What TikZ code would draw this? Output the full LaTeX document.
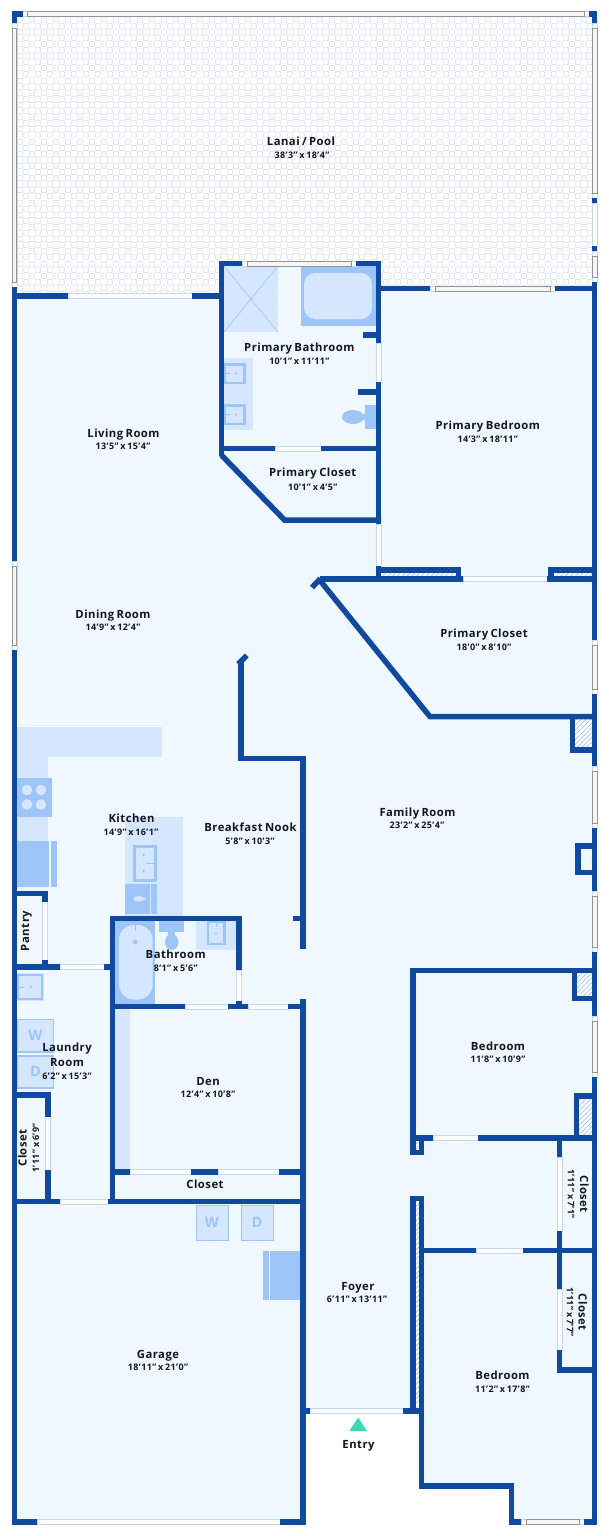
\documentclass[tikz,border=0pt]{standalone}
\usepackage{fontspec}
\setmainfont[LetterSpace=4,WordSpace=0.7,BoldFont={Open Sans Bold}]{Open Sans}
\usetikzlibrary{patterns.meta}
\definecolor{wallc}{HTML}{0F4A9E}
\definecolor{floorc}{HTML}{F0F8FF}
\definecolor{lightc}{HTML}{D4E7FF}
\definecolor{midc}{HTML}{9DC5F8}
\definecolor{tilec}{HTML}{DFE8F6}
\definecolor{edgec}{HTML}{C8D8EC}
\definecolor{framec}{HTML}{949494}
\definecolor{glassc}{HTML}{F5F5F5}
\definecolor{inkc}{HTML}{15151F}
\definecolor{entryc}{HTML}{3FD8B4}
\tikzset{
  wall/.style={draw=wallc,line width=5.5pt,line cap=butt,miter limit=10},
  floorarea/.style={fill=floorc,draw=none},
  lightfix/.style={fill=lightc,draw=none},
  midfix/.style={fill=midc,draw=none},
  tiles/.style={draw=tilec,line width=.9pt},
  doorstrip/.style={fill=white,draw=edgec,line width=.6pt},
  pane/.style={fill=glassc,draw=framec,line width=.7pt},
  hatchfill/.style={fill=white,draw=none},
  hatchlines/.style={pattern={Lines[angle=45,distance=3.4pt,line width=.7pt]},pattern color=midc,draw=none},
  sinkbox/.style={fill=lightc,draw=midc,line width=2.6pt},
  machine/.style={fill=lightc,draw=midc,line width=1.3pt},
  machinetext/.style={text=midc,font=\fontsize{14.5}{16}\selectfont\bfseries},
  rname/.style={text=inkc,font=\fontsize{11.3}{13}\selectfont\bfseries,inner sep=0pt,text height=8pt,text depth=0pt},
  rdim/.style={text=inkc,font=\fontsize{9}{11}\selectfont\bfseries,inner sep=0pt,text height=6.4pt,text depth=0pt},
}
\newcommand{\Hw}[3]{\draw[wall] (#1,#3) -- (#2,#3);}
\newcommand{\Vw}[3]{\draw[wall] (#1,#2) -- (#1,#3);}
\newcommand{\Hd}[3]{\path[doorstrip] (#1,#3-2.5) rectangle (#2,#3+2.5);}
\newcommand{\Vd}[3]{\path[doorstrip] (#1-2.5,#2) rectangle (#1+2.5,#3);}
\newcommand{\Hwin}[3]{\path[doorstrip] (#1,#3-2.5) rectangle (#2,#3+2.5);\path[pane] (#1+5,#3-2.4) rectangle (#2-5,#3+2.4);}
\newcommand{\Vwin}[3]{\path[doorstrip] (#1-2.5,#2) rectangle (#1+2.5,#3);\path[pane] (#1-2.4,#2+5) rectangle (#1+2.4,#3-5);}
\newcommand{\Hatch}[4]{\path[hatchfill] (#1,#2) rectangle (#3,#4);\path[hatchlines] (#1,#2) rectangle (#3,#4);}
\begin{document}
\begin{tikzpicture}[x=1pt,y=-1pt]
\useasboundingbox (0,0) rectangle (608,1536);
\fill[white] (0,0) rectangle (608,1536);
% lanai tiles
\begin{scope}
\clip (17,16) rectangle (592,296);
\draw[tiles] \foreach \i in {0,...,46} {\foreach \j in {0,...,48} {({17+12*\j+6*mod(\i,2)},{17+6.1*\i}) rectangle +(5,5)}};
\end{scope}
% floor
\path[floorarea] (14,296) -- (221,296) -- (221,263) -- (378,263) -- (378,288) -- (595,288) -- (595,1522) -- (511,1522) -- (511,1486) -- (421,1486) -- (421,1411) -- (303,1411) -- (303,1522) -- (14,1522) -- cycle;
% primary bath fixtures
\path[lightfix] (224,266) rectangle (278,332);
\draw[midc,line width=.6pt] (224,266) -- (278,332) (278,266) -- (224,332);
\path[midfix] (301,266) rectangle (376,326);
\path[lightfix,rounded corners=11pt] (304,273) rectangle (372,319);
\path[lightfix] (224,358) rectangle (253,430);
\path[sinkbox] (225,364.5) rectangle (244.5,383);
\path[sinkbox] (225,405.5) rectangle (244.5,424);
\fill[midc] (236,373.5) circle (1.1) (236,414.5) circle (1.1);
\draw[midc,line width=.8pt] (226,373.5) -- (230,373.5) (226,414.5) -- (230,414.5);
\path[midfix] (365,405) rectangle (376,429);
\path[midfix] (358,414) rectangle (366,420);
\fill[midc] (353,417) ellipse [x radius=11,y radius=7];
% kitchen fixtures
\path[lightfix] (17,727) rectangle (162,757);
\path[lightfix] (17,727) rectangle (48,887);
\path[midfix] (17,778) rectangle (52,817);
\fill[lightc] (27,790) circle (5.3) (41,790) circle (5.3) (27,804.5) circle (5.3) (41,804.5) circle (5.3);
\path[midfix] (17,841) rectangle (49,887);
\path[midfix] (50.5,841) rectangle (56.7,887);
\path[lightfix] (125.3,817) rectangle (183.3,916);
\path[sinkbox] (134.5,846.3) rectangle (155.5,880.5);
\fill[midc] (143.5,855) circle (1.3) (143.5,871) circle (1.3);
\draw[midc,line width=1pt] (146,863) -- (155,863);
\path[midfix] (125.3,883.5) rectangle (150,914);
\path[midfix] (151,883.5) rectangle (157,914);
\fill[lightc] (133,899) .. controls (135,895) and (141,895) .. (146,899) .. controls (141,902) and (135,903) .. (133,899) -- cycle;
% bathroom fixtures
\path[midfix] (115,921) rectangle (155,1004);
\path[lightfix,rounded corners=15pt] (119,925) rectangle (152.7,999.5);
\fill[midc] (135.3,942) circle (2.3);
\draw[midc,line width=1pt] (135.3,925) -- (135.3,931);
\path[midfix] (159,921) rectangle (184,932);
\path[midfix] (168,932) rectangle (175,938);
\fill[midc] (171.7,942) ellipse [x radius=6.7,y radius=8];
\path[lightfix] (196,921) rectangle (236.5,950);
\path[sinkbox] (208,922) rectangle (224.3,944);
\fill[midc] (216,934) circle (1.1);
\draw[midc,line width=.8pt] (216,923) -- (216,927);
% laundry fixtures
\path[lightfix] (17,973.3) rectangle (44.3,1001);
\path[sinkbox] (18,975) rectangle (42,999);
\fill[midc] (31,987) circle (1.2);
\draw[midc,line width=.8pt] (19,987) -- (24,987);
\path[machine] (17.6,1019.8) rectangle (53.6,1052);
\path[machine] (17.6,1056) rectangle (53.6,1088);
\node[machinetext] (wa) at (35.5,1035) {W};
\node[machinetext] (dr) at (35.5,1071) {D};
% den closet strip
\path[lightfix] (115.3,1009) rectangle (130,1169.5);
% garage fixtures
\path[machine] (196.2,1205.5) rectangle (228.5,1240.5);
\path[machine] (241.2,1205.5) rectangle (273.5,1240.5);
\node[machinetext] (wb) at (212,1222) {W};
\node[machinetext] (db) at (257,1222) {D};
\path[midfix] (263,1251) rectangle (268.7,1300);
\path[midfix] (270,1251) rectangle (301,1300);
% hatches
\Hatch{381}{572}{456}{577}
\Hatch{553}{572}{592}{577}
\Hatch{575}{719}{592}{747.5}
\Hatch{577}{973}{592}{996}
\Hatch{579}{1098.5}{592}{1135.5}
\Hatch{415}{1201}{419}{1408.5}
\Hatch{415}{1141}{419}{1150}
% doors
\Hd{68}{192}{296}
\Hd{275}{321}{448.3}
\Vd{378.3}{343}{382}
\Vd{378.3}{524}{566}
\Hd{463}{547}{579}
\Vd{44.8}{901.7}{960}
\Hd{60}{104}{966.8}
\Vd{239}{970}{1001}
\Hd{185}{228}{1006.7}
\Hd{248}{288}{1006.7}
\Vd{48.2}{1116.7}{1170}
\Hd{60}{108}{1201.5}
\Hd{130}{191}{1172}
\Hd{218}{279}{1172}
\Hd{433}{478}{1138}
\Vd{559.3}{1157.3}{1231}
\Hd{476}{523}{1250.3}
\Vd{559.3}{1289}{1350}
\Hd{310}{403}{1411}
\Hd{37}{280}{1521.8}
\Vd{594.5}{203}{246}
% windows
\Hwin{22.5}{589}{14}
\Vwin{14.3}{23}{287}
\Vwin{14.3}{561}{650}
\Vwin{594.5}{23}{198}
\Vwin{594.5}{251}{282}
\Hwin{242}{356}{263.5}
\Hwin{430}{555}{288.5}
\Vwin{594.5}{640}{694}
\Vwin{594.5}{766}{828}
\Vwin{594.5}{891}{952}
\Vwin{594.5}{1016}{1077}
\Hwin{521}{584}{1521.8}
% walls: outer
\Hw{11.7}{22.5}{14}
\Vw{14.3}{11.7}{23}
\Hw{589}{597}{14}
\Vw{594.5}{11.7}{23}
\Vw{594.5}{198}{203}
\Vw{594.5}{246}{251}
\Vw{14.3}{287}{561}
\Vw{14.3}{650}{1524.4}
\Vw{594.5}{282}{640}
\Vw{594.5}{694}{766}
\Vw{594.5}{828}{891}
\Vw{594.5}{952}{1016}
\Vw{594.5}{1077}{1524.4}
\Hw{12}{68}{296}
\Hw{192}{221}{296}
\Hw{12}{37}{1521.8}
\Hw{280}{305.7}{1521.8}
% primary bath
\Vw{221.3}{261}{456}
\Hw{219}{242}{263.5}
\Hw{356}{381}{263.5}
\Vw{378.3}{261}{343}
\Vw{378.3}{382}{524}
\Vw{378.3}{566}{581.7}
\Hw{362.7}{376}{335}
\Hw{358}{376}{392}
\Hw{221}{275}{448.3}
\Hw{321}{378}{448.3}
\draw[wall] (221.3,455) -- (284.5,520) -- (381,520);
\Hw{381}{430}{288.5}
\Hw{555}{597}{288.5}
% primary closets
\Hw{378}{461}{570}
\Vw{458.5}{570}{581.7}
\Hw{548.3}{592}{570}
\Vw{551}{570}{581.7}
\draw[wall] (463,579) -- (320,579);
\draw[wall] (312,587.5) -- (320.5,578.5);
\draw[wall] (320,580.5) -- (430,716.7) -- (592,716.7);
\Hw{547}{597}{579}
\draw[wall] (572.7,714) -- (572.7,749.8) -- (592,749.8);
\draw[wall] (592,845.9) -- (578,845.9) -- (578,872.5) -- (592,872.5);
% nook
\draw[wall] (240.8,661) -- (240.8,758.7) -- (303.2,758.7) -- (303.2,949.3);
\draw[wall] (238.2,664) -- (246.8,655.5);
\Hw{293.3}{301}{918.3}
\Vw{303.2}{999.3}{1524.4}
% bathroom
\Hw{110}{241.7}{918.3}
\Vw{112.7}{915.7}{1204}
\Vw{239}{915.7}{970}
\Vw{239}{1000.7}{1009.3}
\Hw{110}{185}{1006.7}
\Hw{228}{248}{1006.7}
\Hw{288}{306}{1006.7}
% pantry, laundry
\Hw{12}{47.3}{893.3}
\Vw{44.8}{891}{901.7}
\Vw{44.8}{960}{969}
\Hw{12}{60}{966.8}
\Hw{104}{115}{966.8}
\Hw{12}{50.7}{1094.8}
\Vw{48.2}{1092.3}{1116.7}
\Vw{48.2}{1170}{1204}
\Hw{12}{60}{1201.5}
\Hw{108}{306}{1201.5}
\Hw{112}{130}{1172}
\Hw{191}{218}{1172}
\Hw{279}{306}{1172}
% bedrooms
\Hw{410}{594}{970.5}
\Vw{412.8}{968}{1141}
\Hw{410}{433}{1138}
\Hw{478}{594}{1138}
\draw[wall] (574.5,973) -- (574.5,998.4) -- (592,998.4);
\draw[wall] (592,1096) -- (576.6,1096) -- (576.6,1136);
\draw[wall] (417.2,1138) -- (412.8,1138) -- (412.8,1152.6) -- (421.4,1152.6) -- (421.4,1138);
\Vw{559.3}{1141}{1157.3}
\Vw{559.3}{1231}{1289}
\Vw{559.3}{1350}{1372.7}
\Hw{421}{476}{1250.3}
\Hw{523}{592}{1250.3}
\Hw{557}{592}{1370}
\Vw{412.8}{1196}{1413.5}
\Vw{421.4}{1196}{1488.6}
\Hw{410}{424}{1198.5}
\Hw{305.7}{310}{1411}
\Hw{403}{424}{1411}
\draw[wall] (419,1486) -- (511.7,1486) -- (511.7,1524.4);
\Hw{509}{521}{1521.8}
\Hw{584}{597}{1521.8}
% entry
\path[fill=entryc] (358.2,1417.5) -- (367,1431) -- (349.3,1431) -- cycle;
% labels
\node[rname] (l1) at (301,142) {Lanai / Pool};
\node[rdim] (d1) at (302,155.5) {38'3" x 18'4"};
\node[rname] (l2) at (299.3,347.7) {Primary Bathroom};
\node[rdim] (d2) at (299.3,361.7) {10'1" x 11'11"};
\node[rname] (l3) at (312.7,472.7) {Primary Closet};
\node[rdim] (d3) at (312.7,487) {10'1" x 4'5"};
\node[rname] (l4) at (487.7,425) {Primary Bedroom};
\node[rdim] (d4) at (487.7,439) {14'3" x 18'11"};
\node[rname] (l5) at (123.5,433) {Living Room};
\node[rdim] (d5) at (123,446.5) {13'5" x 15'4"};
\node[rname] (l6) at (113,614) {Dining Room};
\node[rdim] (d6) at (113,627.5) {14'9" x 12'4"};
\node[rname] (l7) at (484,633.5) {Primary Closet};
\node[rdim] (d7) at (484,647.5) {18'0" x 8'10"};
\node[rname] (l8) at (417.5,812) {Family Room};
\node[rdim] (d8) at (417,825.5) {23'2" x 25'4"};
\node[rname] (l9) at (131.5,818) {Kitchen};
\node[rdim] (d9) at (131,832) {14'9" x 16'1"};
\node[rname] (l10) at (250.5,827.5) {Breakfast Nook};
\node[rdim] (d10) at (250,841) {5'8" x 10'3"};
\node[rname] (l11) at (175.7,954) {Bathroom};
\node[rdim] (d11) at (175.7,968) {8'1" x 5'6"};
\node[rname,rotate=90] (l12) at (25,931) {Pantry};
\node[rname] (l13) at (67,1047) {Laundry};
\node[rname] (l13b) at (67,1062) {Room};
\node[rdim] (d13) at (67,1076) {6'2" x 15'3"};
\node[rname] (l14) at (208,1081) {Den};
\node[rdim] (d14) at (208,1094.5) {12'4" x 10'8"};
\node[rname] (l15) at (205,1184.5) {Closet};
\node[rname,rotate=90] (l16) at (22.5,1148) {Closet};
\node[rdim,rotate=90] (d16) at (36,1148) {1'11" x 6'9"};
\node[rname] (l17) at (498,1046) {Bedroom};
\node[rdim] (d17) at (498,1059.5) {11'8" x 10'9"};
\node[rname,rotate=-90] (l18) at (584,1194) {Closet};
\node[rdim,rotate=-90] (d18) at (571,1194) {1'11" x 7'1"};
\node[rname,rotate=-90] (l19) at (582.5,1312) {Closet};
\node[rdim,rotate=-90] (d19) at (570,1312) {1'11" x 7'7"};
\node[rname] (l20) at (502.5,1375) {Bedroom};
\node[rdim] (d20) at (502.5,1389) {11'2" x 17'8"};
\node[rname] (l21) at (358,1286) {Foyer};
\node[rdim] (d21) at (357,1299.5) {6'11" x 13'11"};
\node[rname] (l22) at (158,1354) {Garage};
\node[rdim] (d22) at (158,1367.5) {18'11" x 21'0"};
\node[rname] (l23) at (358.5,1444) {Entry};
\end{tikzpicture}
\end{document}
